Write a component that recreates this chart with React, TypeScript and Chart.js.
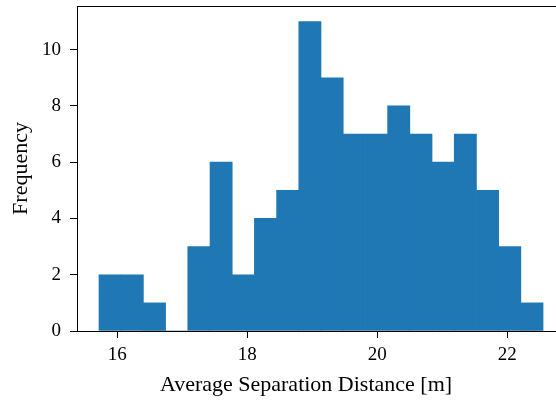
import React, { useEffect, useRef } from "react";
import { Chart, registerables } from "chart.js";

Chart.register(...registerables);

// Histogram bin edges (metres) and counts per bin
const binEdges = [
  15.718, 16.06, 16.401, 16.743, 17.084, 17.426, 17.768, 18.109, 18.451, 18.792,
  19.134, 19.476, 19.817, 20.159, 20.5, 20.842, 21.184, 21.525, 21.867, 22.208, 22.55,
];
const counts = [2, 2, 1, 0, 3, 6, 2, 4, 5, 11, 9, 7, 7, 8, 7, 6, 7, 5, 3, 1];
const xTicks = [16, 18, 20, 22];
const yTicks = [0, 2, 4, 6, 8, 10];
const xLabel = "Average Separation Distance [m]";
const yLabel = "Frequency";

const FONT = "'Liberation Serif', 'Times New Roman', serif";

const spinePlugin = {
  id: "spines",
  afterDraw(chart: any) {
    const { ctx, chartArea } = chart;
    ctx.save();
    ctx.strokeStyle = "#000";
    ctx.lineWidth = 1;
    ctx.beginPath();
    ctx.moveTo(chartArea.left, Math.round(chartArea.top) + 0.5);
    ctx.lineTo(chart.width, Math.round(chartArea.top) + 0.5);
    ctx.stroke();
    // x-axis title (centred like the reference's axes, which extend past the canvas)
    ctx.fillStyle = "#000";
    ctx.font = `22px ${FONT}`;
    ctx.textAlign = "center";
    ctx.textBaseline = "alphabetic";
    ctx.fillText(xLabel, 306, 391);
    ctx.restore();
  },
};

export default function App() {
  const ref = useRef<HTMLCanvasElement | null>(null);

  useEffect(() => {
    document.body.style.margin = "0";
    const canvas = ref.current;
    if (!canvas) return;
    const data = counts.map((c, i) => ({ x: (binEdges[i] + binEdges[i + 1]) / 2, y: c }));
    const chart = new Chart(canvas, {
      type: "bar",
      data: {
        datasets: [
          {
            data: data as any,
            backgroundColor: "#1f77b4",
            borderWidth: 0,
            barPercentage: 1,
            categoryPercentage: 1,
          },
        ],
      },
      options: {
        responsive: false,
        animation: false,
        layout: { padding: { top: 6, left: 0, right: 0, bottom: 0 } },
        plugins: { legend: { display: false }, tooltip: { enabled: false } },
        scales: {
          x: {
            type: "linear",
            offset: false,
            min: 15.38,
            max: 22.749,
            grid: {
              offset: false,
              display: true,
              drawOnChartArea: false,
              drawTicks: true,
              tickLength: 7,
              color: "#000",
              lineWidth: 1,
            },
            border: { display: true, color: "#000", width: 1 },
            afterBuildTicks: (scale: any) => {
              scale.ticks = xTicks.map((v) => ({ value: v }));
            },
            afterFit: (scale: any) => {
              scale.height = 69;
              scale.paddingLeft = 0;
              scale.paddingRight = 0;
            },
            ticks: {
              color: "#000",
              font: { family: FONT, size: 19 },
              padding: 6,
              maxRotation: 0,
              autoSkip: false,
            },
            title: { display: false },
          },
          y: {
            type: "linear",
            min: 0,
            max: 11.55,
            grid: {
              display: true,
              drawOnChartArea: false,
              drawTicks: true,
              tickLength: 7,
              color: "#000",
              lineWidth: 1,
            },
            border: { display: true, color: "#000", width: 1 },
            afterBuildTicks: (scale: any) => {
              scale.ticks = yTicks.map((v) => ({ value: v }));
            },
            afterFit: (scale: any) => {
              scale.width = 77;
              scale.paddingTop = 0;
              scale.paddingBottom = 0;
            },
            ticks: {
              color: "#000",
              font: { family: FONT, size: 19 },
              padding: 9,
              autoSkip: false,
            },
            title: {
              display: true,
              text: yLabel,
              color: "#000",
              font: { family: FONT, size: 22 },
              padding: { top: 8, bottom: 0 },
            },
          },
        },
      },
      plugins: [spinePlugin],
    });
    return () => chart.destroy();
  }, []);

  return (
    <div style={{ width: 556, height: 400 }}>
      <canvas ref={ref} width={556} height={400} style={{ display: "block" }} />
    </div>
  );
}
